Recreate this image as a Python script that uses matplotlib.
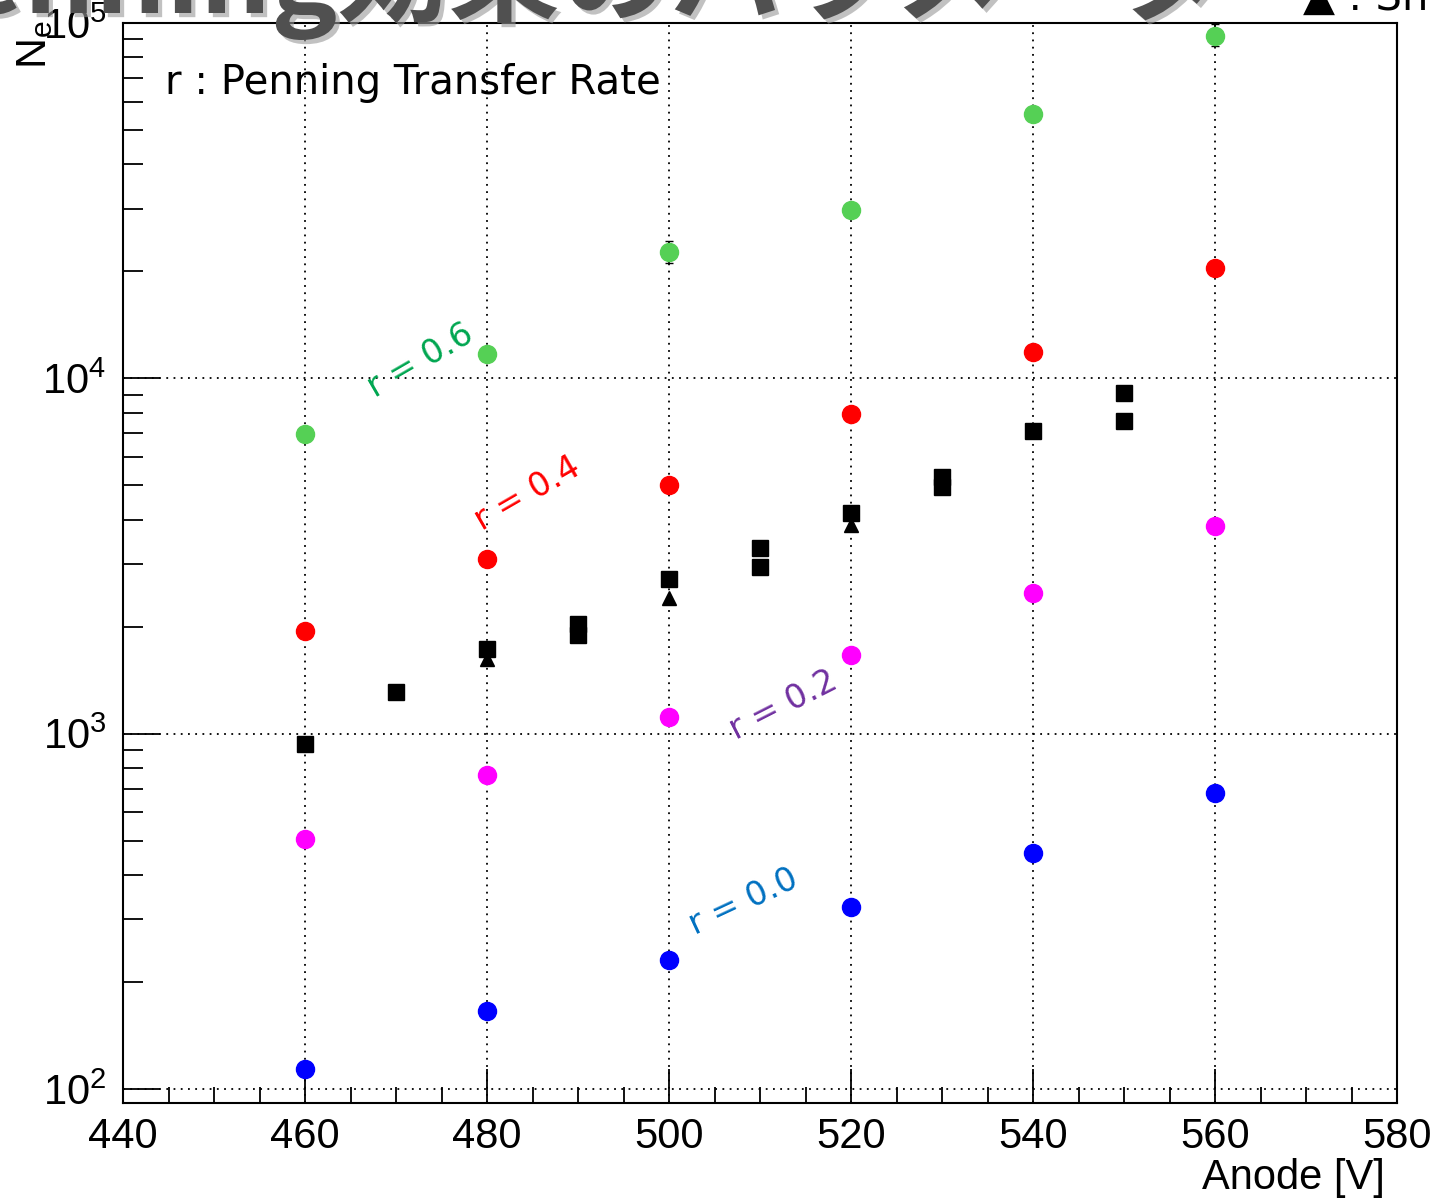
import math
import matplotlib
matplotlib.use('Agg')
import matplotlib.pyplot as plt
import matplotlib.patheffects as pe
from matplotlib.ticker import FixedLocator, LogLocator, FuncFormatter, NullFormatter

plt.rcParams['font.family'] = ['Liberation Sans', 'DejaVu Sans']

# Simulated gain for each Penning transfer rate
anode_sim = [460, 480, 500, 520, 540, 560]
ne_r00 = [114, 166, 230, 326, 462, 682]
ne_r02 = [506, 767, 1116, 1669, 2493, 3830]
ne_r04 = [1950, 3110, 5020, 7920, 11840, 20400]
ne_r06 = [6950, 11690, 22650, 29730, 55470, 91800]
err_r06_lo = [0, 0, 1550, 0, 0, 5800]
err_r06_hi = [0, 0, 1700, 0, 0, 7500]

# Measured points (squares)
anode_meas = [460, 470, 480, 490, 490, 500, 510, 510, 520, 530, 530, 540, 550, 550]
ne_meas = [937, 1313, 1727, 2040, 1900, 2718, 3340, 2951, 4167, 5262, 4934, 7090, 9073, 7565]

# Triangles
anode_tri = [480, 500, 520]
ne_tri = [1626, 2415, 3857]

labels = ['r = 0.6', 'r = 0.4', 'r = 0.2', 'r = 0.0']
label_x = [472.7, 484.4, 512.6, 508.2]
label_y = [11240, 4744, 1200, 337]
label_rot = [30, 30, 27, 25]
label_col = ['#00a650', '#ff0000', '#7030a0', '#0070c0']

fig = plt.figure(figsize=(14.37, 11.99), dpi=100)
ax = fig.add_axes([123 / 1437, 96 / 1199, 1274 / 1437, 1080 / 1199])

ax.set_xlim(440, 580)
ax.set_yscale('log')
ax.set_ylim(91.3, 1e5)

ax.grid(True, which='major', color='black', linestyle=(0, (1, 3)), linewidth=1.3)
ax.set_axisbelow(True)

ms = 13
ax.errorbar(anode_sim, ne_r06, yerr=[err_r06_lo, err_r06_hi], fmt='o', color='#55d055',
            ecolor='black', elinewidth=1.2, capsize=3, markersize=ms, zorder=3)
ax.plot(anode_sim, ne_r04, 'o', color='#ff0000', markersize=ms, zorder=3)
ax.plot(anode_sim, ne_r02, 'o', color='#ff00ff', markersize=ms, zorder=3)
ax.plot(anode_sim, ne_r00, 'o', color='#0000ff', markersize=ms, zorder=3)
ax.plot(anode_tri, ne_tri, '^', color='black', markersize=10, zorder=4)
ax.plot(anode_meas, ne_meas, 's', color='black', markersize=11, zorder=5)

for t, x, y, r, c in zip(labels, label_x, label_y, label_rot, label_col):
    ax.text(x, y, t, rotation=r, color=c, fontsize=24, ha='center', va='center',
            family='DejaVu Sans', rotation_mode='anchor')

ax.text(0.033, 0.944, 'r : Penning Transfer Rate', transform=ax.transAxes,
        fontsize=29, family='DejaVu Sans', va='center', ha='left')

# ticks, ROOT style
ax.xaxis.set_major_locator(FixedLocator(range(440, 581, 20)))
ax.xaxis.set_minor_locator(FixedLocator(range(440, 581, 5)))
ax.yaxis.set_major_locator(LogLocator(base=10))
ax.yaxis.set_minor_locator(LogLocator(base=10, subs=range(2, 10)))
ax.yaxis.set_major_formatter(FuncFormatter(lambda v, p: r'$\mathregular{10^{%d}}$' % round(math.log10(v))))
ax.yaxis.set_minor_formatter(NullFormatter())
ax.tick_params(axis='x', which='major', direction='in', length=24.5, width=1.3,
               labelsize=30, pad=10, top=False)
ax.tick_params(axis='x', which='minor', direction='in', length=11.5, width=1.3, top=False)
ax.tick_params(axis='y', which='major', direction='in', length=26.6, width=1.3,
               labelsize=30, pad=12, right=False)
ax.tick_params(axis='y', which='minor', direction='in', length=14.4, width=1.3, right=False)
for s in ax.spines.values():
    s.set_linewidth(1.5)

fig.text(1385 / 1437, (1199 - 1178) / 1199, 'Anode [V]', fontsize=30, ha='right', va='center')
fig.text(35 / 1437, (1199 - 20) / 1199, r'$\mathregular{N_e}$', fontsize=31, rotation=90,
         ha='center', va='top')

# cut-off slide title and legend text at the top edge
fig.text(-115 / 1437, (1199 - 13) / 1199, 'Penning効果のパラメータ', fontsize=80,
         family=['Noto Sans CJK JP'], weight='bold', color='#505050', va='baseline', ha='left',
         path_effects=[pe.withSimplePatchShadow(offset=(3, -3), shadow_rgbFace='#999999', alpha=0.6)])
fig.text(1303 / 1437, (1199 - 10) / 1199, '▲ : Sh', fontsize=30, family=['DejaVu Sans'],
         va='baseline', ha='left')

fig.savefig('out.png', dpi=100)
